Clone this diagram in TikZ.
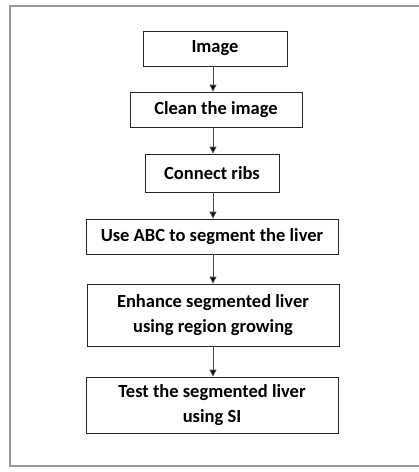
\documentclass[tikz,border=0pt]{standalone}
\usepackage{fontspec}
\setmainfont{Carlito}
\usetikzlibrary{arrows.meta}
\begin{document}
\begin{tikzpicture}[x=1pt,y=-1pt,
  stepbox/.style={draw=black!85,line width=0.8pt,font=\bfseries\fontsize{18.5}{25}\selectfont,align=center,inner sep=0pt},
  flow/.style={draw=black!70,line width=0.9pt,-{Triangle[length=7pt,width=7pt,fill=black]}}]
\useasboundingbox (0,0) rectangle (419,472);
\fill[white] (0,0) rectangle (419,472);
\draw[draw=black!40,line width=2pt] (421,6) -- (10,6) -- (10,466) -- (421,466);
\node[stepbox,minimum width=144pt,minimum height=35pt] (n1) at (215,48.5) {Image};
\node[stepbox,minimum width=172pt,minimum height=35pt] (n2) at (216,109.5) {Clean the image};
\node[stepbox,minimum width=134pt,minimum height=38pt] (n3) at (212,173) {Connect ribs};
\node[stepbox,minimum width=252pt,minimum height=35pt] (n4) at (212,236.5) {Use ABC to segment the liver};
\node[stepbox,minimum width=252pt,minimum height=62pt] (n5) at (213,315) {Enhance segmented liver\\using region growing};
\node[stepbox,minimum width=252pt,minimum height=56pt] (n6) at (212,405) {Test the segmented liver\\using SI};
\draw[flow] (n1.south -| 213,0) -- (n2.north -| 213,0);
\draw[flow] (n2.south -| 213,0) -- (n3.north -| 213,0);
\draw[flow] (n3.south -| 213,0) -- (n4.north -| 213,0);
\draw[flow] (n4.south -| 213,0) -- (n5.north -| 213,0);
\draw[flow] (n5.south -| 213,0) -- (n6.north -| 213,0);
\end{tikzpicture}
\end{document}
